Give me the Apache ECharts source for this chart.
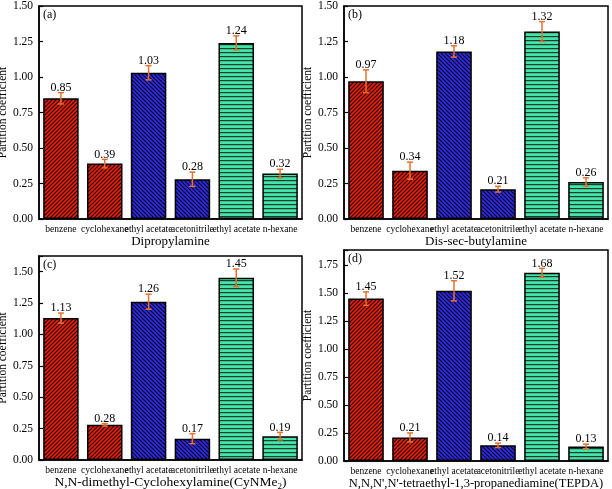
<!DOCTYPE html>
<html><head><meta charset="utf-8">
<script src="https://cdn.jsdelivr.net/npm/echarts@6/dist/echarts.min.js"></script>
<style>html,body{margin:0;padding:0;background:#fff}#c{width:612px;height:489px}</style>
</head><body><div id="c"></div>
<script>
var categories = ['benzene','cyclohexane','ethyl acetate','acetonitrile','ethyl acetate','n-hexane'];
var valuesA = [0.85,0.39,1.03,0.28,1.24,0.32];
var errorsA = [0.04,0.03,0.05,0.05,0.05,0.03];
var valuesB = [0.97,0.34,1.18,0.21,1.32,0.26];
var errorsB = [0.08,0.06,0.04,0.02,0.07,0.03];
var valuesC = [1.13,0.28,1.26,0.17,1.45,0.19];
var errorsC = [0.04,0.01,0.06,0.04,0.07,0.03];
var valuesD = [1.45,0.21,1.52,0.14,1.68,0.13];
var errorsD = [0.06,0.04,0.09,0.02,0.04,0.02];
var panelLabels = ['(a)','(b)','(c)','(d)'];
var panelNames = ['Dipropylamine','Dis-sec-butylamine','N,N-dimethyl-Cyclohexylamine(CyNMe{sub|2})',"N,N,N',N'-tetraethyl-1,3-propanediamine(TEPDA)"];
var yMax = [1.5, 1.5, 1.624, 1.884];

var SERIF = '"Liberation Serif","Times New Roman",serif';

function diag(bg, mirror){
  var s=4, c=document.createElement('canvas'); c.width=s; c.height=s;
  var g=c.getContext('2d'); g.fillStyle=bg; g.fillRect(0,0,s,s);
  g.strokeStyle='#140808'; g.lineWidth=1.15;
  if(mirror){ g.translate(s,0); g.scale(-1,1); }
  var segs=[[-1,s+1,s+1,-1],[-1,1,1,-1],[s-1,s+1,s+1,s-1]];
  segs.forEach(function(p){g.beginPath();g.moveTo(p[0],p[1]);g.lineTo(p[2],p[3]);g.stroke();});
  return {image:c, repeat:'repeat'};
}
function horiz(bg){
  var s=4, c=document.createElement('canvas'); c.width=s; c.height=s;
  var g=c.getContext('2d'); g.fillStyle=bg; g.fillRect(0,0,s,s);
  g.fillStyle='#1a3a30'; g.fillRect(0,0,s,1.2);
  return {image:c, repeat:'repeat'};
}
var red = diag('#f01c0c', false);
var blue = diag('#2a2af4', true);
var green = horiz('#44e4a8');
var fills = [red, red, blue, blue, green, green];

var grids = [
  {left:39, top:6, width:263, height:213},
  {left:344, top:6, width:264, height:213},
  {left:39, top:256, width:263, height:204},
  {left:344, top:250, width:264, height:211}
];
var nameSizes = [13, 13, 13.5, 12.5];
var nameGaps = [16, 16, 12, 13];
var allVals=[valuesA,valuesB,valuesC,valuesD], allErrs=[errorsA,errorsB,errorsC,errorsD];

var option = {animation:false, grid:[], xAxis:[], yAxis:[], series:[], graphic:[]};
grids.forEach(function(g,i){
  option.grid.push(Object.assign({show:true, borderColor:'#000', borderWidth:1.5, backgroundColor:'transparent',
    containLabel:false, outerBoundsMode:'none'}, g));
  option.xAxis.push({type:'category', gridIndex:i, data:categories,
    axisLine:{lineStyle:{color:'#000',width:1.5}}, axisTick:{show:false},
    axisLabel:{interval:0, fontFamily:SERIF, fontSize:9.5, color:'#000', margin:5, hideOverlap:false},
    name:panelNames[i], nameLocation:'middle', nameGap:nameGaps[i],
    nameTextStyle:{fontFamily:SERIF, fontSize:nameSizes[i], color:'#000',
      rich:{sub:{fontFamily:SERIF, fontSize:9, verticalAlign:'bottom', padding:[7,0,0,0]}}}
  });
  option.yAxis.push({type:'value', gridIndex:i, min:0, max:yMax[i], interval:0.25,
    axisLine:{show:true, lineStyle:{color:'#000',width:1.5}},
    axisTick:{show:true, inside:true, length:4, lineStyle:{color:'#000',width:1.2}},
    splitLine:{show:false},
    axisLabel:{fontFamily:SERIF, fontSize:11.5, color:'#000', margin:6,
      formatter:function(v){ return Math.abs(v/0.25-Math.round(v/0.25))<1e-6 ? v.toFixed(2) : ''; }},
    name:'Partition coefficient', nameLocation:'middle', nameGap:27,
    nameTextStyle:{fontFamily:SERIF, fontSize:11.5, color:'#000'}
  });
  var vals=allVals[i], errs=allErrs[i];
  option.series.push({type:'bar', xAxisIndex:i, yAxisIndex:i, barCategoryGap:'19%',
    data: vals.map(function(v,k){ return {value:v, itemStyle:{color:fills[k], borderColor:'#000', borderWidth:1.5}}; })
  });
  option.series.push({type:'custom', xAxisIndex:i, yAxisIndex:i, z:5,
    data: vals.map(function(v,k){ return [k, v, errs[k]]; }),
    renderItem:function(params, api){
      var x=api.value(0), v=api.value(1), e=api.value(2);
      var t=api.coord([x, v+e]), b=api.coord([x, v-e]);
      var cw=3, st={stroke:'#e8702c', lineWidth:1.5};
      return {type:'group', children:[
        {type:'line', shape:{x1:t[0],y1:t[1],x2:b[0],y2:b[1]}, style:st},
        {type:'line', shape:{x1:t[0]-cw,y1:t[1],x2:t[0]+cw,y2:t[1]}, style:st},
        {type:'line', shape:{x1:b[0]-cw,y1:b[1],x2:b[0]+cw,y2:b[1]}, style:st},
        {type:'text', z2:10, style:{text:v.toFixed(2), x:t[0], y:t[1]+1, align:'center', verticalAlign:'bottom',
          font:'12px '+SERIF, fill:'#000'}}
      ]};
    }
  });
  option.graphic.push({type:'text', left:g.left+4, top:g.top+3,
    style:{text:panelLabels[i], font:'12px '+SERIF, fill:'#000'}});
});
var chart = echarts.init(document.getElementById('c'), null, {renderer:'canvas'});
chart.setOption(option);
</script></body></html>
